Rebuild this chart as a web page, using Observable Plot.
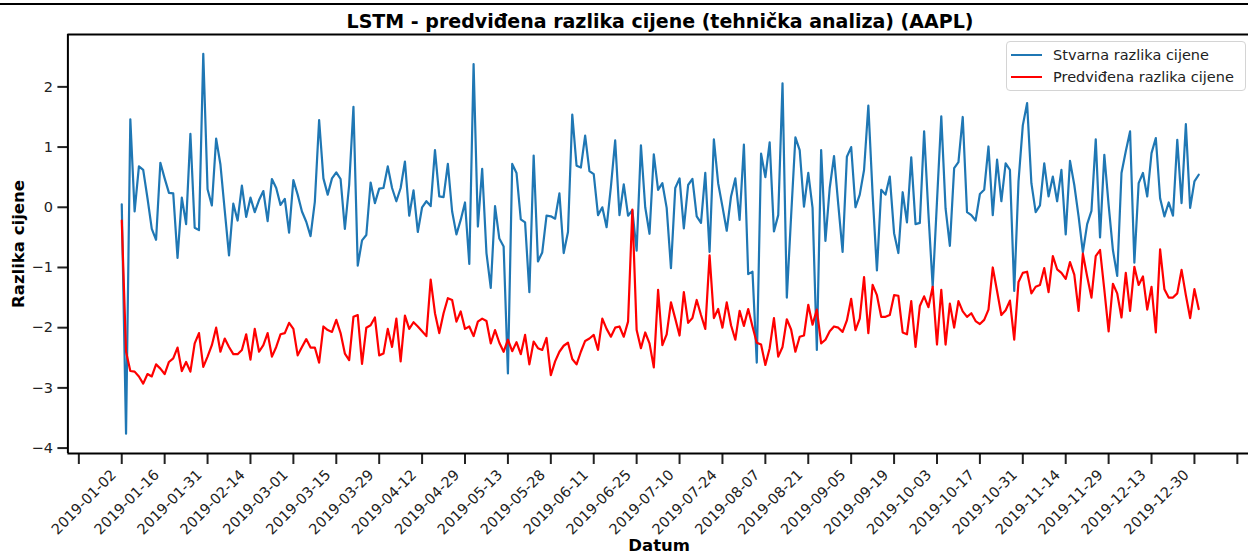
<!DOCTYPE html>
<html>
<head>
<meta charset="utf-8">
<script src="https://cdn.jsdelivr.net/npm/d3@7"></script>
<script src="https://cdn.jsdelivr.net/npm/@observablehq/plot@0.6"></script>
<style>
  body { margin: 0; background: #fff; font-family: "DejaVu Sans", sans-serif; }
  #wrap { position: relative; width: 1248px; height: 557px; overflow: hidden; background: #fff; }
  #topline { position: absolute; left: 0; top: 3px; width: 1248px; height: 2px; background: #000; }
  #title { height: 28px; width: 1176px; padding-left: 72px; text-align: center; font-weight: bold; font-size: 19px; line-height: 19px; padding-top: 0; box-sizing: content-box; position: relative; }
  #title span { position: relative; top: 12px; }
  #legend { position: absolute; left: 1006px; top: 41px; width: 238px; height: 48px; border: 1px solid #d4d4d4; border-radius: 4px; background: rgba(255,255,255,0.85); font-size: 14.5px; color: #222; }
  .sw { position: absolute; left: 4px; width: 31px; height: 2.2px; }
  .lt { position: absolute; left: 46px; line-height: 16px; white-space: nowrap; }
</style>
</head>
<body>
<div id="wrap">
  <div id="topline"></div>
  <div id="title"><span>LSTM - predviđena razlika cijene (tehnička analiza) (AAPL)</span></div>
  <div id="chart"></div>
  <div id="legend">
    <div class="sw" style="top:12px;background:#1f77b4"></div>
    <div class="lt" style="top:5px">Stvarna razlika cijene</div>
    <div class="sw" style="top:34px;background:red"></div>
    <div class="lt" style="top:27px">Predviđena razlika cijene</div>
  </div>
</div>
<script>
const tickLabels = ["2019-01-02","2019-01-16","2019-01-31","2019-02-14","2019-03-01","2019-03-15","2019-03-29","2019-04-12","2019-04-29","2019-05-13","2019-05-28","2019-06-11","2019-06-25","2019-07-10","2019-07-24","2019-08-07","2019-08-21","2019-09-05","2019-09-19","2019-10-03","2019-10-17","2019-10-31","2019-11-14","2019-11-29","2019-12-13","2019-12-30"];

const actual = [
0.05,-3.76,1.46,-0.07,0.68,0.62,0.15,-0.36,-0.54,0.74,
0.48,0.24,0.23,-0.84,0.16,-0.28,1.22,-0.34,-0.38,2.55,
0.30,0.03,1.14,0.71,-0.05,-0.80,0.06,-0.22,0.36,-0.16,
0.16,-0.08,0.12,0.27,-0.23,0.47,0.32,0.04,0.14,-0.42,
0.45,0.21,-0.07,-0.24,-0.48,0.09,1.45,0.48,0.21,0.48,
0.58,0.47,-0.36,0.37,1.67,-0.97,-0.55,-0.46,0.41,0.07,
0.31,0.32,0.68,0.32,0.10,0.32,0.76,-0.14,0.28,-0.41,
0.00,0.10,0.02,0.95,0.18,0.17,0.72,-0.07,-0.45,-0.21,
0.08,-0.94,2.38,-0.32,0.64,-0.76,-1.34,0.02,-0.52,-0.65,
-2.76,0.72,0.57,-0.20,-0.25,-1.41,0.86,-0.90,-0.75,-0.14,
-0.15,-0.19,0.23,-0.76,-0.41,1.54,0.69,0.66,1.19,0.60,
0.55,-0.13,0.00,-0.33,0.34,1.11,-0.13,0.38,-0.14,-0.05,
-0.72,1.03,0.00,-0.44,0.88,0.29,0.40,-0.01,-1.01,0.32,
0.48,-0.35,0.37,0.47,-0.15,-0.26,0.57,-0.74,1.13,0.40,
0.01,-0.39,0.18,0.48,-0.21,1.04,-1.11,-1.07,-2.58,0.89,
0.50,1.08,-0.40,-0.13,2.06,-1.50,-0.15,1.16,0.95,0.01,
0.57,-0.01,-2.37,0.95,-0.56,0.32,0.85,0.04,-0.74,0.84,
1.00,0.00,0.21,0.62,1.69,0.21,-1.05,0.29,0.21,0.51,
-0.43,-0.76,0.25,-0.25,0.83,-0.28,-0.26,1.26,-0.10,-1.32,
0.10,1.51,-0.02,-0.64,0.65,0.75,1.50,-0.08,-0.13,-0.22,
0.22,0.29,1.01,-0.13,0.79,0.10,0.73,0.62,-1.39,0.43,
1.36,1.73,0.40,-0.08,0.03,0.73,0.18,0.51,0.10,0.62,
-0.45,0.77,0.37,-0.15,-0.75,-0.28,-0.06,1.13,-0.50,0.87,
0.04,-0.71,-1.14,0.57,0.93,1.26,-0.92,0.40,0.57,0.18,
0.90,1.15,0.15,-0.15,0.08,-0.14,1.12,0.07,1.38,-0.01,
0.43,0.54];

const predicted = [
-0.22,-2.40,-2.72,-2.73,-2.81,-2.93,-2.77,-2.81,-2.61,-2.68,
-2.77,-2.57,-2.51,-2.33,-2.72,-2.57,-2.73,-2.26,-2.09,-2.65,
-2.48,-2.29,-2.00,-2.40,-2.18,-2.32,-2.44,-2.44,-2.37,-2.11,
-2.53,-2.02,-2.40,-2.29,-2.09,-2.48,-2.32,-2.11,-2.09,-1.92,
-2.02,-2.46,-2.32,-2.19,-2.33,-2.33,-2.58,-1.98,-2.04,-2.07,
-1.87,-2.09,-2.43,-2.54,-1.82,-1.79,-2.60,-2.00,-1.96,-1.83,
-2.46,-2.43,-2.02,-2.32,-1.85,-2.56,-1.80,-2.02,-1.91,-1.98,
-2.06,-2.14,-1.20,-1.76,-2.09,-1.76,-1.51,-1.54,-1.90,-1.73,
-2.02,-1.98,-2.14,-1.90,-1.85,-1.89,-2.26,-2.04,-2.25,-2.40,
-2.20,-2.39,-2.24,-2.44,-2.12,-2.61,-2.23,-2.34,-2.37,-2.17,
-2.79,-2.56,-2.40,-2.30,-2.25,-2.52,-2.61,-2.40,-2.22,-2.18,
-2.12,-2.37,-1.85,-2.02,-2.15,-2.00,-1.98,-2.15,-1.90,-0.04,
-2.04,-2.34,-2.08,-2.26,-2.66,-1.37,-2.29,-2.11,-1.58,-1.85,
-2.13,-1.41,-1.92,-1.84,-1.54,-1.79,-2.02,-0.80,-1.84,-1.69,
-2.00,-1.58,-1.96,-2.20,-1.72,-1.97,-1.69,-1.98,-2.25,-2.28,
-2.62,-2.34,-1.84,-2.48,-2.32,-1.86,-2.03,-2.40,-2.15,-2.13,
-1.62,-1.95,-1.70,-2.26,-2.20,-2.06,-1.98,-2.00,-2.07,-1.88,
-1.52,-2.04,-1.85,-1.16,-2.09,-1.29,-1.46,-1.82,-1.82,-1.79,
-1.46,-1.47,-2.08,-2.11,-1.56,-2.32,-1.64,-1.48,-1.66,-1.32,
-2.28,-1.37,-2.28,-1.60,-2.00,-1.56,-1.73,-1.82,-1.76,-1.89,
-1.94,-1.87,-1.70,-1.00,-1.39,-1.79,-1.71,-1.55,-2.20,-1.24,
-1.09,-1.07,-1.43,-1.32,-1.29,-1.01,-1.41,-0.81,-1.03,-1.09,
-1.19,-0.91,-1.12,-1.72,-0.77,-1.15,-1.50,-0.81,-0.71,-1.37,
-2.06,-1.27,-1.43,-1.83,-1.09,-1.72,-0.99,-1.29,-1.15,-1.70,
-1.32,-2.08,-0.70,-1.36,-1.50,-1.50,-1.43,-1.04,-1.46,-1.84,
-1.36,-1.69];

const yTicks = [-4, -3, -2, -1, 0, 1, 2];
const xTicks = d3.range(-10, 261, 10);

const xDomain = [-12.55, 262.6];
const yDomain = [-4.09, 2.87];

const fmtY = d => d < 0 ? "\u2212" + Math.abs(d) : String(d);
const fmtX = d => (d >= 0 && d / 10 < tickLabels.length) ? tickLabels[d / 10] : "";

const chart = Plot.plot({
  width: 1248,
  height: 529,
  marginTop: 6,
  marginBottom: 104,
  marginLeft: 67.4,
  marginRight: 0,
  style: { fontFamily: "DejaVu Sans, sans-serif", fontSize: "14.5px", color: "#222", background: "transparent", overflow: "visible" },
  x: { type: "linear", domain: xDomain },
  y: { domain: yDomain },
  marks: [
    Plot.axisY({ ticks: yTicks, tickSize: 10, tickPadding: 5, strokeWidth: 2, fontSize: 14.5, label: null, tickFormat: fmtY }),
    // tick marks only
    Plot.axisX({ ticks: xTicks, tickSize: 11, strokeWidth: 2, fill: "none", label: null }),
    // rotated labels only
    Plot.axisX({ ticks: xTicks, tickSize: 11, tickPadding: 3, tickRotate: -45, stroke: "none", fontSize: 14.5, label: null,
      dx: -8, dy: 5, tickFormat: fmtX }),
    Plot.lineY(actual, { stroke: "#1f77b4", strokeWidth: 2.2, strokeLinejoin: "round" }),
    Plot.lineY(predicted, { stroke: "red", strokeWidth: 2.2, strokeLinejoin: "round" }),
    Plot.ruleX([xDomain[0]], { stroke: "#000", strokeWidth: 2 }),
    Plot.ruleY([yDomain[1]], { stroke: "#000", strokeWidth: 2 }),
    Plot.ruleY([yDomain[0]], { stroke: "#000", strokeWidth: 2 }),
    Plot.text(["Datum"], { text: d => d, frameAnchor: "bottom", dy: 97, dx: 1, fontWeight: "bold", fontSize: 16.5, fill: "#000" }),
    Plot.text(["Razlika cijene"], { text: d => d, frameAnchor: "left", textAnchor: "middle", dx: -49, rotate: -90, fontWeight: "bold", fontSize: 16.5, fill: "#000" })
  ]
});
document.getElementById("chart").appendChild(chart);
</script>
</body>
</html>
